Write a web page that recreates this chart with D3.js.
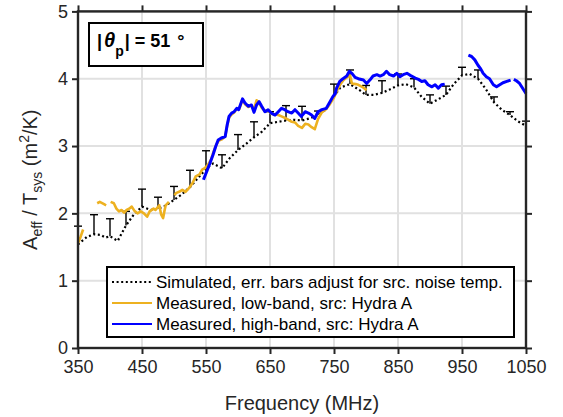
<!DOCTYPE html>
<html>
<head>
<meta charset="utf-8">
<script src="https://cdn.jsdelivr.net/npm/d3@7"></script>
<style>
  body { margin: 0; background: #ffffff; }
  svg { display: block; font-family: "Liberation Sans", Arial, Helvetica, sans-serif; }
</style>
</head>
<body>
<svg id="chart" width="563" height="417"></svg>
<script>
// Simulated A_eff/T_sys (m^2/K) versus frequency (MHz)
const simFreq = [350,364,375,385,393,400,412,425,437,450,464,475,486,500,512,525,539,550,561,575,
                 587,600,611,625,637,650,663,675,689,700,712,725,737,750,760,775,790,800,812,825,
                 837,850,862,875,887,900,912,925,937,950,962,975,987,1000,1012,1025,1037,1050];
const simGain = [1.54,1.65,1.69,1.68,1.64,1.66,1.59,1.82,1.98,2.10,2.05,2.07,2.11,2.20,2.28,2.39,2.54,2.66,2.74,2.67,
                 2.82,2.94,3.02,3.13,3.21,3.34,3.36,3.38,3.39,3.38,3.41,3.46,3.54,3.74,3.87,3.92,3.83,3.76,3.76,3.79,
                 3.84,3.90,3.92,3.87,3.73,3.63,3.69,3.76,3.92,4.05,4.07,4.00,3.85,3.65,3.54,3.46,3.37,3.30];

// Upper ends of the error bars (adjusted for source noise temperature)
const errFreq = [350,375,400,425,450,475,500,525,550,575,600,625,650,675,700,725,750,775,800,825,
                 850,875,900,925,950,975,1000,1025,1050];
const errTop  = [1.81,1.98,1.92,2.03,2.36,2.24,2.40,2.64,2.93,2.87,3.17,3.36,3.51,3.60,3.59,3.52,3.92,4.13,3.90,3.97,
                 4.07,4.00,3.76,3.89,4.17,4.13,3.73,3.51,3.37];

// Measured, low band (null marks a break in the trace)
const lowFreq = [350,354,358,369,380,384,390,394,397,401,406,410,414,418,422,426,430,434,438,443,
                 448,453,458,462,468,471,477,480,483,485,487,492,496,501,503,508,513,518,523,529,
                 534,540,544,548,553,558,562,566,570,575,580,583,586,590,594,598,602,607,611,616,
                 621,625,629,633,637,642,647,652,658,663,668,673,679,684,689,694,700,705,710,715,
                 720,725,731,738,744,750,756,760,765,770,775,778,784,788,794,801];
const lowGain = [1.56,1.65,1.76,null,2.15,2.17,2.14,2.12,null,2.17,2.15,2.07,2.03,2.05,2.01,2.05,2.07,2.10,2.04,2.00,
                 2.03,2.00,1.95,2.03,2.07,2.05,2.12,1.98,1.93,2.03,2.12,2.17,null,2.27,2.30,2.32,2.35,2.32,2.37,2.45,
                 2.55,2.58,2.65,2.67,2.72,2.80,2.92,3.02,3.08,3.10,3.14,3.30,3.42,3.47,3.50,3.55,3.55,3.69,3.62,3.58,
                 3.60,3.55,3.68,3.64,3.57,3.52,3.53,3.48,3.47,3.46,3.44,3.42,3.39,3.36,3.35,3.30,3.27,3.33,3.32,3.28,
                 3.25,3.40,3.50,3.55,3.63,3.72,3.85,3.92,3.98,4.02,4.05,3.93,3.92,3.91,3.88,3.83];

// Measured, high band
const highFreq = [546,551,556,561,565,569,574,580,583,586,590,594,598,601,607,611,616,621,625,629,
                  633,637,642,647,652,658,663,668,673,678,684,689,694,699,705,710,715,720,725,731,
                  738,744,748,752,754,759,764,770,774,778,783,788,796,801,806,811,817,822,827,832,
                  837,843,848,853,858,864,869,877,882,887,892,897,903,908,913,918,923,940,960,965,
                  970,975,979,983,988,993,999,1004,1009,1014,1020,1026,1028,1031,1035,1040,1044,1048,1050];
const highGain = [2.50,2.62,2.74,2.87,2.99,3.09,3.12,3.14,3.31,3.44,3.49,3.51,3.56,3.54,3.70,3.64,3.59,3.61,3.50,3.61,
                  3.66,3.59,3.51,3.54,3.49,3.46,3.51,3.56,3.54,3.51,3.49,3.54,3.49,3.44,3.51,3.49,3.46,3.41,3.51,3.54,
                  3.56,3.66,3.73,3.78,3.86,3.96,4.00,4.04,4.11,4.08,4.02,4.00,3.98,3.93,3.98,4.04,4.06,4.04,4.06,4.11,
                  4.06,4.04,4.08,4.03,4.06,4.08,4.05,4.01,3.99,3.96,3.97,3.91,3.88,3.91,3.86,3.91,3.92,null,4.35,4.33,
                  4.28,4.20,4.15,4.08,4.03,4.00,3.91,3.88,3.91,3.94,3.96,3.98,null,3.99,3.97,3.93,3.87,3.81,3.78];

const xTicks = [350,450,550,650,750,850,950,1050];
const yTicks = [0,1,2,3,4,5];

const legendLabels = [
  "Simulated, err. bars adjust for src. noise temp.",
  "Measured, low-band, src: Hydra A",
  "Measured, high-band, src: Hydra A"
];

const axisColor = "#262626";
const lowColor = "#EDB120";
const highColor = "#0000FF";

const svg = d3.select("#chart");
const plot = { left: 78, right: 526, top: 11.4, bottom: 348 };

const x = d3.scaleLinear().domain([350, 1050]).range([plot.left, plot.right]);
const y = d3.scaleLinear().domain([0, 5]).range([plot.bottom, plot.top]);

// grid
const grid = svg.append("g").attr("stroke", "#e1e1e1").attr("stroke-width", 2);
grid.selectAll("line.gx").data(xTicks).join("line")
  .attr("x1", d => x(d)).attr("x2", d => x(d))
  .attr("y1", plot.top).attr("y2", plot.bottom);
grid.selectAll("line.gy").data(yTicks).join("line")
  .attr("x1", plot.left).attr("x2", plot.right)
  .attr("y1", d => y(d)).attr("y2", d => y(d));

// axes with outward ticks on all four sides
function styleAxis(g) {
  g.select(".domain").remove();
  g.selectAll(".tick line").attr("stroke", axisColor).attr("stroke-width", 2);
  g.selectAll(".tick text").attr("fill", axisColor).style("font-size", "18px")
    .style("font-family", '"Liberation Sans", Arial, sans-serif');
}
const gx = svg.append("g").attr("transform", `translate(0,${plot.bottom})`)
  .call(d3.axisBottom(x).tickValues(xTicks).tickSize(6).tickPadding(6).tickFormat(d3.format("d")));
styleAxis(gx);
const gxTop = svg.append("g").attr("transform", `translate(0,${plot.top})`)
  .call(d3.axisTop(x).tickValues(xTicks).tickSize(6).tickFormat(""));
styleAxis(gxTop);
const gy = svg.append("g").attr("transform", `translate(${plot.left},0)`)
  .call(d3.axisLeft(y).tickValues(yTicks).tickSize(6).tickPadding(4).tickFormat(d3.format("d")));
styleAxis(gy);
const gyR = svg.append("g").attr("transform", `translate(${plot.right},0)`)
  .call(d3.axisRight(y).tickValues(yTicks).tickSize(6).tickFormat(""));
styleAxis(gyR);

// data layer
const simPts = simFreq.map((f, i) => [f, simGain[i]]);
const lowPts = lowFreq.map((f, i) => [f, lowGain[i]]);
const highPts = highFreq.map((f, i) => [f, highGain[i]]);

const line = d3.line()
  .defined(d => d[1] !== null)
  .x(d => x(d[0])).y(d => y(d[1]));

svg.append("path").datum(simPts)
  .attr("d", line).attr("fill", "none")
  .attr("stroke", "#000").attr("stroke-width", 2.2)
  .attr("stroke-dasharray", "2 2.6");

// error bars, from the simulated value up to the adjusted upper bound
const simAt = new Map(simFreq.map((f, i) => [f, simGain[i]]));
const eb = svg.append("g").attr("stroke", "#000").attr("stroke-width", 1.4);
errFreq.forEach((f, i) => {
  const xc = x(f);
  eb.append("line").attr("x1", xc).attr("x2", xc)
    .attr("y1", y(simAt.get(f))).attr("y2", y(errTop[i]));
  eb.append("line").attr("x1", xc - 4).attr("x2", xc + 4)
    .attr("y1", y(errTop[i])).attr("y2", y(errTop[i]));
});

svg.append("path").datum(lowPts)
  .attr("d", line).attr("fill", "none")
  .attr("stroke", lowColor).attr("stroke-width", 2.6).attr("stroke-linejoin", "round");

svg.append("path").datum(highPts)
  .attr("d", line).attr("fill", "none")
  .attr("stroke", highColor).attr("stroke-width", 3).attr("stroke-linejoin", "round");

// axes box
svg.append("rect")
  .attr("x", plot.left).attr("y", plot.top)
  .attr("width", plot.right - plot.left).attr("height", plot.bottom - plot.top)
  .attr("fill", "none").attr("stroke", axisColor).attr("stroke-width", 2.4);

// axis titles
svg.append("text")
  .attr("x", (plot.left + plot.right) / 2).attr("y", 410)
  .attr("text-anchor", "middle").attr("fill", axisColor)
  .style("font-size", "20px").text("Frequency (MHz)");

const yl = svg.append("text")
  .attr("transform", `translate(37,${(plot.top + plot.bottom) / 2}) rotate(-90)`)
  .attr("text-anchor", "middle").attr("fill", axisColor)
  .style("font-size", "20px");
yl.append("tspan").text("A");
yl.append("tspan").attr("dy", 5).style("font-size", "14px").text("eff");
yl.append("tspan").attr("dy", -5).text(" / T");
yl.append("tspan").attr("dy", 5).style("font-size", "14px").text("sys");
yl.append("tspan").attr("dy", -5).text(" (m");
yl.append("tspan").attr("dy", -8).style("font-size", "14px").text("2");
yl.append("tspan").attr("dy", 8).text("/K)");

// angle annotation box
svg.append("rect").attr("x", 89).attr("y", 23).attr("width", 114).attr("height", 43)
  .attr("fill", "#fff").attr("stroke", "#000").attr("stroke-width", 2);
const ann = svg.append("text").attr("x", 97).attr("y", 47)
  .attr("fill", "#000").style("font-size", "18px").style("font-weight", "bold");
ann.append("tspan").text("|");
ann.append("tspan").style("font-style", "italic").style("font-size", "20px").attr("dx", 2).text("θ");
ann.append("tspan").attr("dy", 9).style("font-size", "14px").text("p");
ann.append("tspan").attr("dy", -9).attr("dx", 1).text("| = 51");
ann.append("tspan").attr("dx", 7).text("°");

// legend
const lg = svg.append("g");
lg.append("rect").attr("x", 107).attr("y", 267).attr("width", 407).attr("height", 70)
  .attr("fill", "#fff").attr("stroke", "#000").attr("stroke-width", 2);
const legendStyles = [
  { color: "#000", width: 2.2, dash: "2 2.6" },
  { color: lowColor, width: 2.2, dash: null },
  { color: highColor, width: 2.2, dash: null }
];
legendLabels.forEach((lab, i) => {
  const cy = 282 + i * 21;
  lg.append("line").attr("x1", 112).attr("x2", 152).attr("y1", cy).attr("y2", cy)
    .attr("stroke", legendStyles[i].color).attr("stroke-width", legendStyles[i].width)
    .attr("stroke-dasharray", legendStyles[i].dash);
  lg.append("text").attr("x", 156).attr("y", cy + 6)
    .attr("fill", "#000").style("font-size", "17px").text(lab);
});
</script>
</body>
</html>
